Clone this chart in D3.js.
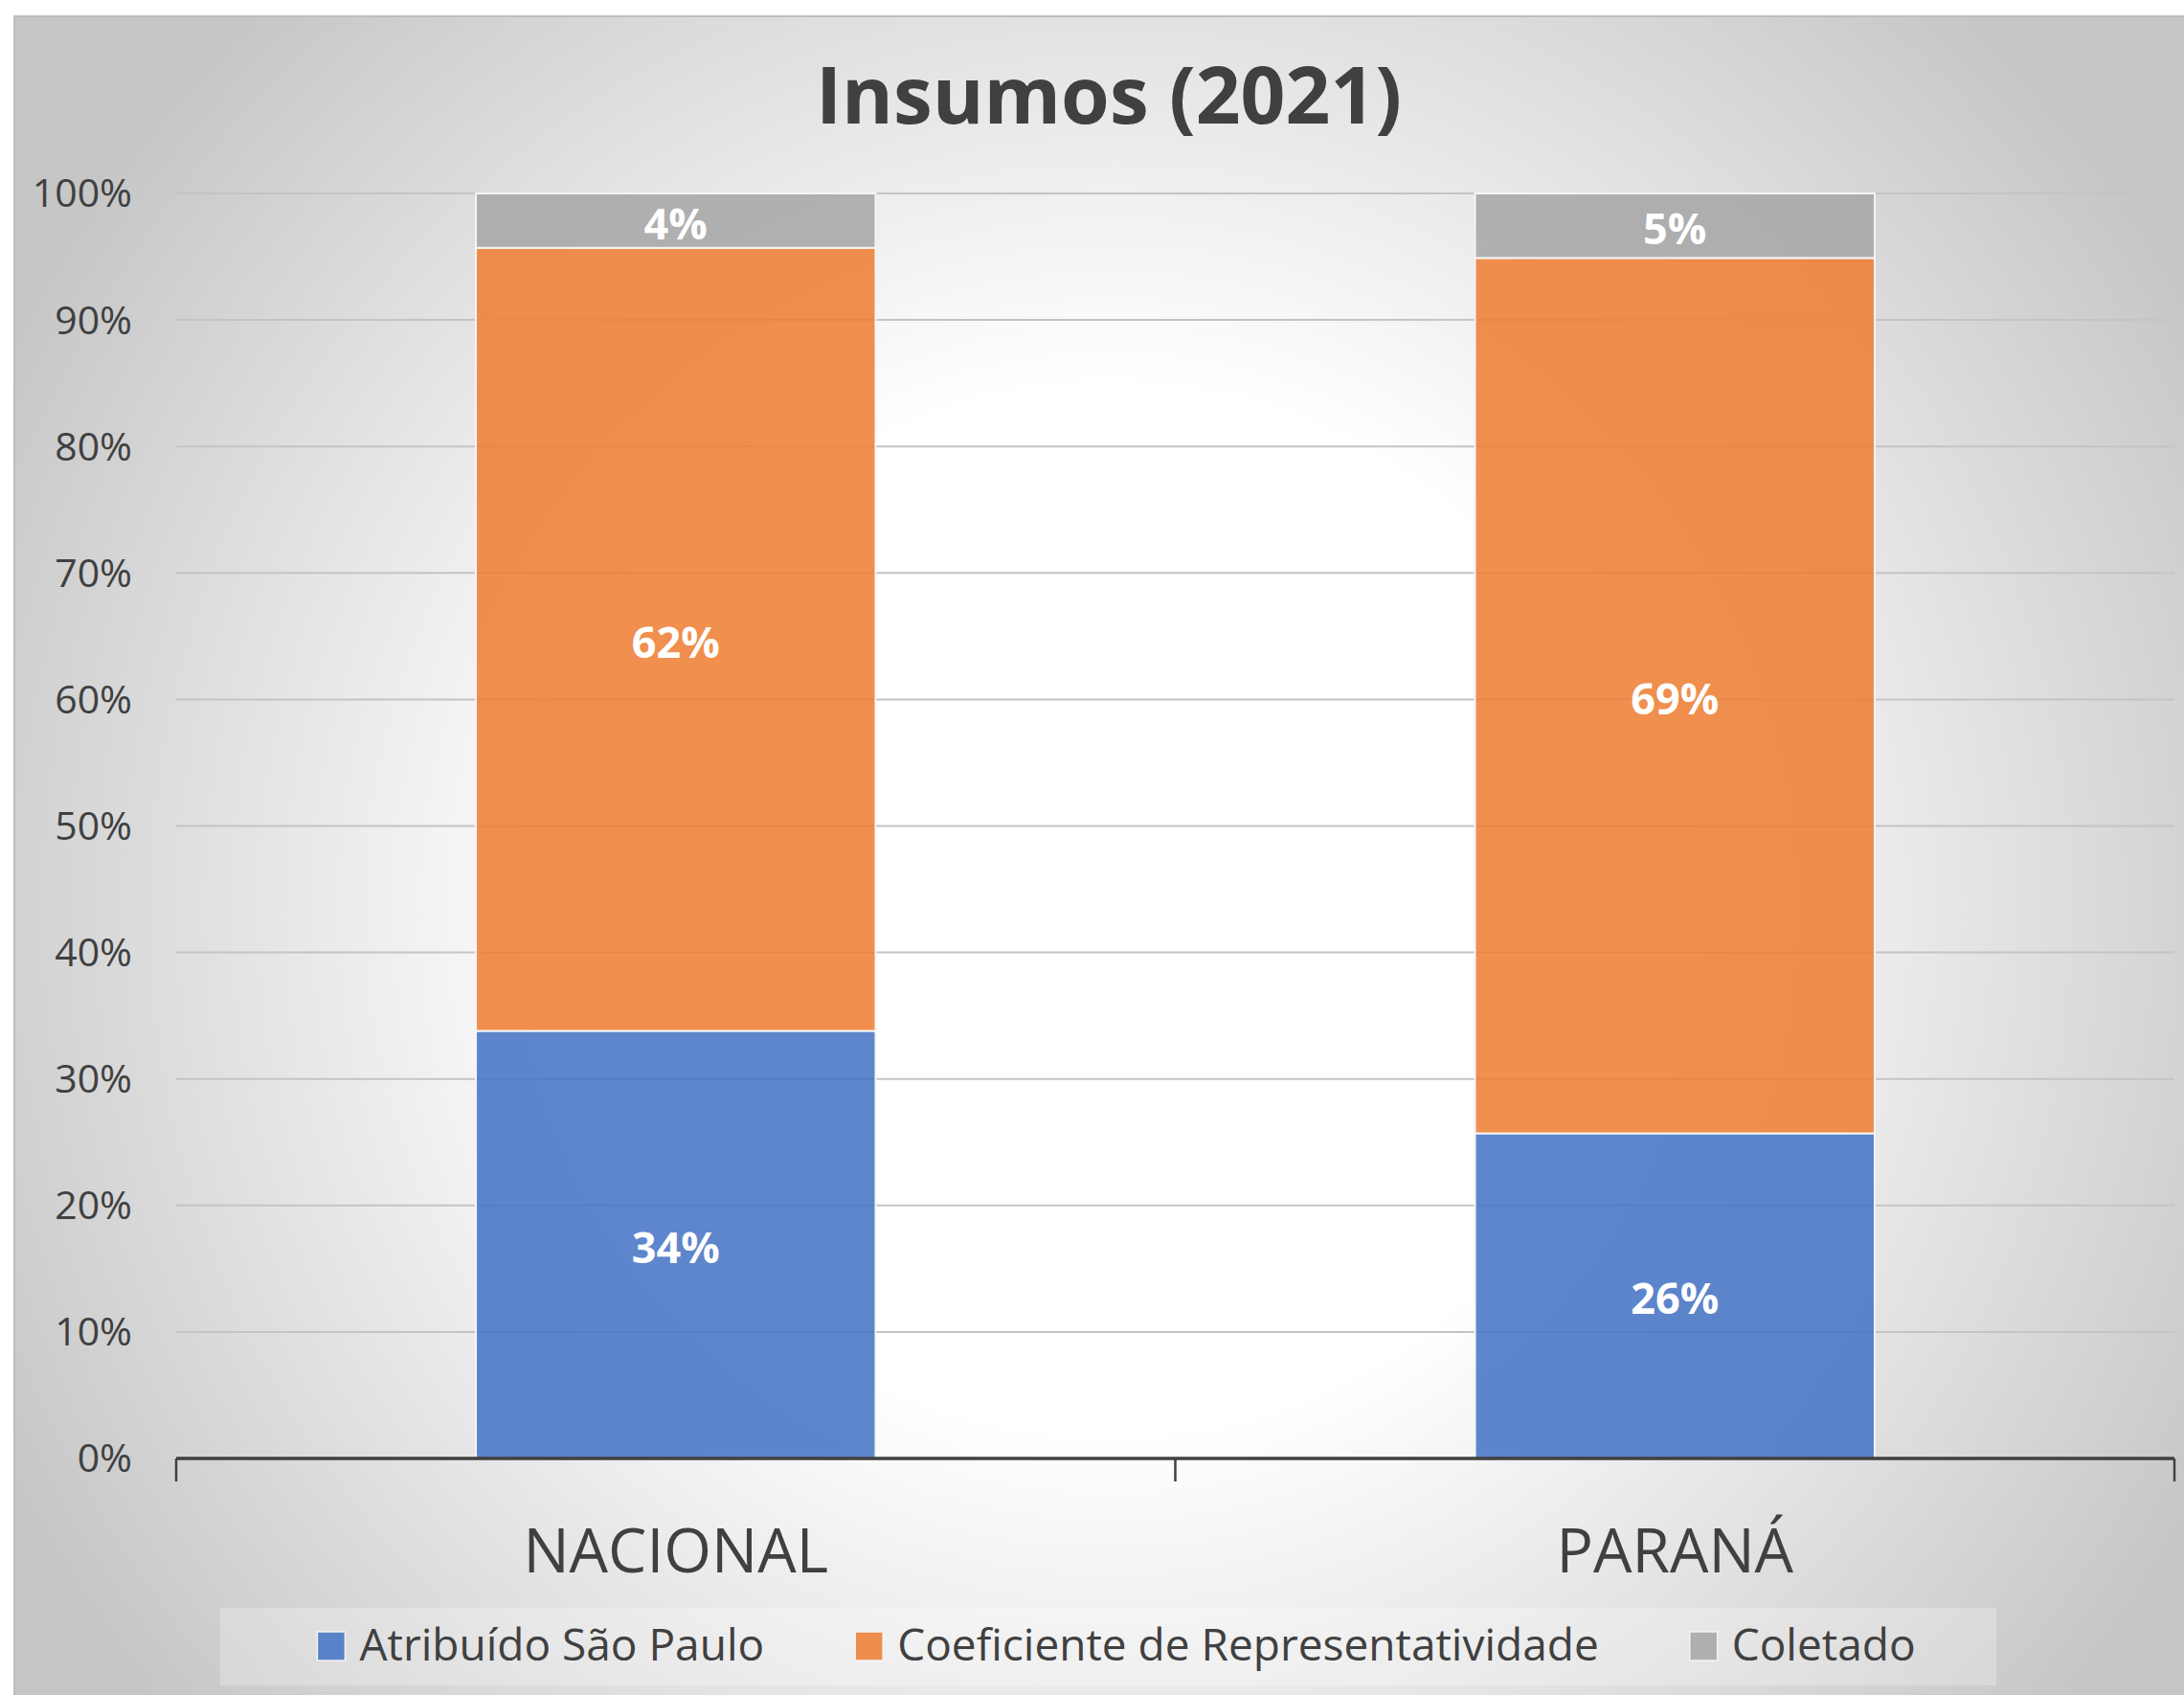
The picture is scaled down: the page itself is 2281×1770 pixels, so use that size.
<!DOCTYPE html>
<html>
<head>
<meta charset="utf-8">
<script src="https://cdn.jsdelivr.net/npm/d3@7"></script>
<style>
  body { margin: 0; background: #fff; }
  text { font-family: "Open Sans", "Noto Sans", sans-serif; }
</style>
</head>
<body>
<div id="chart"></div>
<script>
var categories = ["NACIONAL", "PARANÁ"];
var seriesNames = ["Atribuído São Paulo", "Coeficiente de Representatividade", "Coletado"];
var atribuido = [0.338, 0.257];
var coeficiente = [0.619, 0.692];
var coletado = [0.043, 0.051];
var labels = [["34%", "62%", "4%"], ["26%", "69%", "5%"]];
var yTicks = [0, 0.1, 0.2, 0.3, 0.4, 0.5, 0.6, 0.7, 0.8, 0.9, 1];
var colors = ["#4472C4", "#ED7D31", "#A5A5A5"];

var W = 2281, H = 1770;
var margin = { top: 202, right: 10, bottom: 247, left: 184 },
  width = W - margin.left - margin.right,
  height = H - margin.top - margin.bottom;

var svg = d3.select("#chart").append("svg")
  .attr("width", W)
  .attr("height", H);

// background gradient
var defs = svg.append("defs");
var grad = defs.append("radialGradient")
  .attr("id", "bg")
  .attr("gradientUnits", "userSpaceOnUse")
  .attr("cx", 1160).attr("cy", 950).attr("r", 1300);
grad.append("stop").attr("offset", "0%").attr("stop-color", "#ffffff");
grad.append("stop").attr("offset", "42%").attr("stop-color", "#ffffff");
grad.append("stop").attr("offset", "100%").attr("stop-color", "#c6c6c6");

svg.append("rect")
  .attr("x", 15).attr("y", 17)
  .attr("width", 2286).attr("height", 1800)
  .attr("fill", "url(#bg)")
  .attr("stroke", "#bdbdbd")
  .attr("stroke-width", 2);

svg.append("text")
  .attr("x", 1158)
  .attr("y", 129)
  .attr("text-anchor", "middle")
  .style("font-size", "82px")
  .style("font-weight", "bold")
  .style("fill", "#404040")
  .text("Insumos (2021)");

var g = svg.append("g")
  .attr("transform", "translate(" + margin.left + "," + margin.top + ")");

var x = d3.scaleBand()
  .domain(categories)
  .range([0, width])
  .paddingInner(0.6)
  .paddingOuter(0.3);

var y = d3.scaleLinear()
  .domain([0, 1])
  .range([height, 0]);

// gridlines
g.selectAll(".grid")
  .data(yTicks.slice(1))
  .enter()
  .append("line")
  .attr("x1", 0)
  .attr("x2", width)
  .attr("y1", function (d) { return y(d) })
  .attr("y2", function (d) { return y(d) })
  .attr("stroke", "#c4c4c4")
  .attr("stroke-width", 2);

// y axis labels
var yAxis = g.append("g")
  .call(d3.axisLeft(y).tickValues(yTicks).tickFormat(d3.format(".0%")).tickSize(0).tickPadding(46));
yAxis.select(".domain").remove();
yAxis.selectAll("text")
  .style("font-size", "41px")
  .style("fill", "#404040")
  .attr("dy", "0.34em");

// stacked data
var table = categories.map(function (c, i) {
  return { cat: c, a: atribuido[i], b: coeficiente[i], c: coletado[i], idx: i };
});
var stack = d3.stack().keys(["a", "b", "c"]);
var layers = stack(table);

var bars = g.selectAll(".layer")
  .data(layers)
  .enter()
  .append("g")
  .attr("fill", function (d, i) { return colors[i] });

bars.selectAll("rect")
  .data(function (d) { return d })
  .enter()
  .append("rect")
  .attr("x", function (d) { return x(d.data.cat) })
  .attr("y", function (d) { return y(d[1]) })
  .attr("width", x.bandwidth())
  .attr("height", function (d) { return y(d[0]) - y(d[1]) })
  .attr("fill-opacity", 0.86)
  .attr("stroke", "#f4f4f4")
  .attr("stroke-width", 2);

// data labels
layers.forEach(function (layer, li) {
  g.selectAll(".lbl" + li)
    .data(layer)
    .enter()
    .append("text")
    .attr("x", function (d) { return x(d.data.cat) + x.bandwidth() / 2 })
    .attr("y", function (d) { return (y(d[0]) + y(d[1])) / 2 + 3 })
    .attr("dy", "0.36em")
    .attr("text-anchor", "middle")
    .style("font-size", "45px")
    .style("font-weight", "bold")
    .style("fill", "#ffffff")
    .text(function (d) { return labels[d.data.idx][li] });
});

// x axis
var xAxis = g.append("g")
  .attr("transform", "translate(0," + height + ")");
xAxis.append("line")
  .attr("x1", 0).attr("x2", width)
  .attr("y1", 0).attr("y2", 0)
  .attr("stroke", "#404040")
  .attr("stroke-width", 3.5);
var boundaries = [0].concat(categories.map(function (c) { return x(c) + x.bandwidth() + x.step() * x.paddingInner() / 2 }));
boundaries[boundaries.length - 1] = width;
xAxis.selectAll(".tk")
  .data(boundaries)
  .enter()
  .append("line")
  .attr("x1", function (d) { return d }).attr("x2", function (d) { return d })
  .attr("y1", 0).attr("y2", 24)
  .attr("stroke", "#404040")
  .attr("stroke-width", 2.5);
xAxis.selectAll(".cat")
  .data(categories)
  .enter()
  .append("text")
  .attr("x", function (d) { return x(d) + x.bandwidth() / 2 })
  .attr("y", 119)
  .attr("text-anchor", "middle")
  .style("font-size", "64px")
  .style("fill", "#404040")
  .text(function (d) { return d });

// legend
svg.append("rect")
  .attr("x", 230).attr("y", 1679)
  .attr("width", 1855).attr("height", 81)
  .attr("fill", "#ffffff")
  .attr("fill-opacity", 0.25);

var legend = svg.append("g");
var items = legend.selectAll(".item")
  .data(seriesNames)
  .enter()
  .append("g");
items.append("rect")
  .attr("width", 29).attr("height", 30)
  .attr("y", -30)
  .attr("fill", function (d, i) { return colors[i] })
  .attr("fill-opacity", 0.86)
  .attr("stroke", "#f4f4f4")
  .attr("stroke-width", 1.5);
items.append("text")
  .attr("x", 44)
  .attr("y", 0)
  .style("font-size", "46px")
  .style("fill", "#404040")
  .text(function (d) { return d });

var pos = 0, offsets = [];
items.each(function () {
  offsets.push(pos);
  var w = 44 + d3.select(this).select("text").node().getComputedTextLength();
  pos += w + 95;
});
var total = pos - 95;
var startX = 1166 - total / 2;
items.attr("transform", function (d, i) { return "translate(" + (startX + offsets[i]) + ",1734)" });
</script>
</body>
</html>
